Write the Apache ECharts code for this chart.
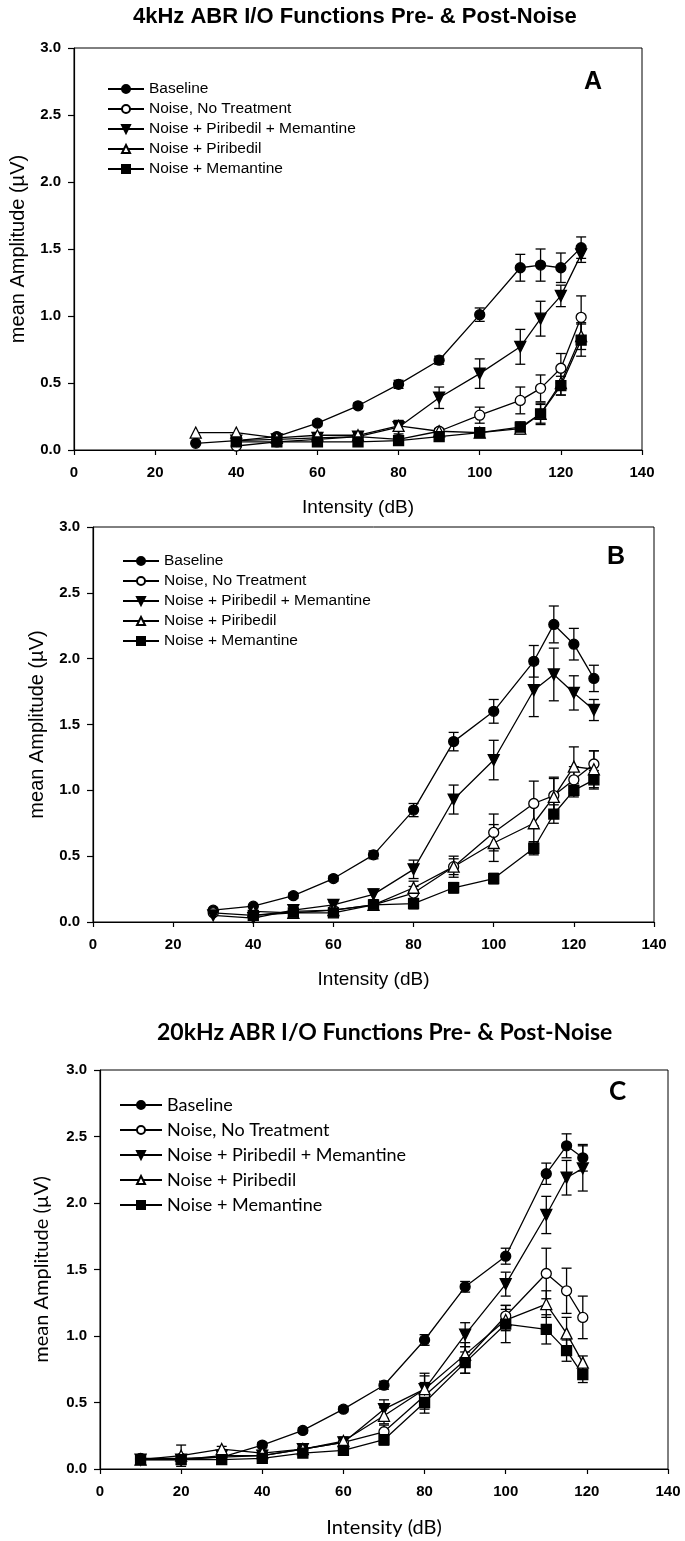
<!DOCTYPE html>
<html>
<head>
<meta charset="utf-8">
<script src="https://cdn.jsdelivr.net/npm/echarts@6/dist/echarts.min.js"></script>
<style>
  html, body { margin: 0; padding: 0; background: #fff; }
  #chart { width: 685px; height: 1541px; }
</style>
</head>
<body>
<div id="chart"></div>
<script>
// ---------- DATA ----------
const seriesNames = ['Baseline', 'Noise, No Treatment', 'Noise + Piribedil + Memantine', 'Noise + Piribedil', 'Noise + Memantine'];
const xTicks = [0, 20, 40, 60, 80, 100, 120, 140];
const yTicks = [0, 0.5, 1.0, 1.5, 2.0, 2.5, 3.0];

// Panel A (4 kHz)
const xA = [30, 40, 50, 60, 70, 80, 90, 100, 110, 115, 120, 125];
const baselineA = [0.05, 0.07, 0.10, 0.20, 0.33, 0.49, 0.67, 1.01, 1.36, 1.38, 1.36, 1.51];
const baselineErrA = [null, null, 0.02, 0.02, 0.02, 0.03, 0.03, 0.05, 0.10, 0.12, 0.11, 0.08];
const noiseA = [null, 0.03, 0.06, 0.08, 0.10, 0.08, 0.14, 0.26, 0.37, 0.46, 0.61, 0.99];
const noiseErrA = [null, null, null, null, null, null, 0.02, 0.06, 0.10, 0.10, 0.11, 0.16];
const pmA = [null, 0.07, 0.08, 0.09, 0.10, 0.17, 0.39, 0.57, 0.77, 0.98, 1.15, 1.46];
const pmErrA = [null, null, null, null, null, 0.05, 0.08, 0.11, 0.13, 0.13, 0.08, 0.06];
const pirA = [0.13, 0.13, 0.09, 0.11, 0.11, 0.18, 0.14, 0.13, 0.16, 0.27, 0.50, 0.85];
const pirErrA = [null, null, null, 0.02, 0.02, 0.04, 0.02, 0.03, 0.04, 0.07, 0.09, 0.10];
const memA = [null, 0.06, 0.06, 0.06, 0.06, 0.07, 0.10, 0.13, 0.17, 0.27, 0.48, 0.82];
const memErrA = [null, null, null, null, null, null, 0.02, 0.03, 0.04, 0.08, 0.07, 0.12];

// Panel B
const xB = [30, 40, 50, 60, 70, 80, 90, 100, 110, 115, 120, 125];
const baselineB = [0.09, 0.12, 0.20, 0.33, 0.51, 0.85, 1.37, 1.60, 1.98, 2.26, 2.11, 1.85];
const baselineErrB = [null, null, 0.02, 0.02, 0.03, 0.05, 0.07, 0.09, 0.12, 0.14, 0.12, 0.10];
const noiseB = [0.07, 0.05, 0.08, 0.09, 0.13, 0.22, 0.42, 0.68, 0.90, 0.96, 1.08, 1.20];
const noiseErrB = [null, null, null, null, 0.02, 0.05, 0.08, 0.14, 0.17, 0.14, 0.10, 0.10];
const pmB = [0.05, 0.03, 0.09, 0.13, 0.21, 0.40, 0.93, 1.23, 1.76, 1.88, 1.74, 1.61];
const pmErrB = [null, null, null, 0.02, 0.04, 0.07, 0.11, 0.15, 0.20, 0.20, 0.13, 0.08];
const pirB = [null, 0.08, 0.07, 0.09, 0.13, 0.26, 0.42, 0.60, 0.75, 0.95, 1.18, 1.16];
const pirErrB = [null, null, null, null, 0.02, 0.05, 0.06, 0.14, 0.14, 0.14, 0.15, 0.14];
const memB = [null, 0.05, 0.07, 0.07, 0.13, 0.14, 0.26, 0.33, 0.56, 0.82, 1.00, 1.08];
const memErrB = [null, null, null, 0.02, 0.03, 0.04, 0.04, 0.04, 0.05, 0.07, 0.05, 0.07];

// Panel C (20 kHz)
const xC = [10, 20, 30, 40, 50, 60, 70, 80, 90, 100, 110, 115, 119];
const baselineC = [0.08, 0.08, 0.09, 0.18, 0.29, 0.45, 0.63, 0.97, 1.37, 1.60, 2.22, 2.43, 2.34];
const baselineErrC = [null, null, null, 0.02, 0.02, 0.02, 0.03, 0.04, 0.04, 0.06, 0.08, 0.09, 0.10];
const noiseC = [0.07, 0.07, 0.09, 0.10, 0.15, 0.20, 0.28, 0.55, 0.82, 1.15, 1.47, 1.34, 1.14];
const noiseErrC = [null, null, null, null, 0.02, 0.03, 0.05, 0.10, 0.10, 0.08, 0.19, 0.17, 0.16];
const pmC = [0.07, 0.07, 0.10, 0.10, 0.15, 0.20, 0.45, 0.60, 1.01, 1.39, 1.91, 2.19, 2.26];
const pmErrC = [null, null, null, null, 0.02, 0.03, 0.07, 0.12, 0.09, 0.09, 0.14, 0.13, 0.17];
const pirC = [0.07, 0.10, 0.15, 0.12, 0.15, 0.21, 0.40, 0.60, 0.86, 1.12, 1.24, 1.02, 0.80];
const pirErrC = [null, 0.08, 0.02, 0.02, 0.02, 0.03, 0.06, 0.10, 0.09, 0.08, 0.10, 0.12, 0.05];
const memC = [0.07, 0.07, 0.07, 0.08, 0.12, 0.14, 0.22, 0.50, 0.80, 1.09, 1.05, 0.89, 0.71];
const memErrC = [null, null, 0.02, 0.02, 0.02, 0.02, 0.04, 0.08, 0.08, 0.14, 0.11, 0.08, 0.06];

// ---------- BUILD ----------
const AR = "'Liberation Sans', Arial, sans-serif";
const CAL = "Lato, 'Liberation Sans', sans-serif";

const styles = [
  { symbol: 'circle', rotate: 0, fill: '#000', size: 10 },
  { symbol: 'circle', rotate: 0, fill: '#fff', size: 10 },
  { symbol: 'triangle', rotate: 180, fill: '#000', size: 11 },
  { symbol: 'triangle', rotate: 0, fill: '#fff', size: 11 },
  { symbol: 'rect', rotate: 0, fill: '#000', size: 10 }
];

function pairs(xs, ys) {
  const out = [];
  xs.forEach((x, i) => { if (ys[i] != null) out.push([x, ys[i]]); });
  return out;
}
function errTriples(xs, ys, es) {
  const out = [];
  xs.forEach((x, i) => { if (ys[i] != null && es[i] != null) out.push([x, ys[i] - es[i], ys[i] + es[i]]); });
  return out;
}
function lineSeries(k, gi, xs, ys) {
  const s = styles[k];
  return {
    type: 'line', name: seriesNames[k], xAxisIndex: gi, yAxisIndex: gi,
    data: pairs(xs, ys), symbol: s.symbol, symbolSize: s.size, symbolRotate: s.rotate,
    showAllSymbol: true, z: 3, animation: false,
    lineStyle: { color: '#000', width: 1.3 },
    itemStyle: { color: s.fill, borderColor: '#000', borderWidth: 1.3, opacity: 1 },
    emphasis: { disabled: true }
  };
}
function errSeries(k, gi, xs, ys, es) {
  return {
    type: 'custom', name: 'err-' + gi + '-' + k, xAxisIndex: gi, yAxisIndex: gi,
    data: errTriples(xs, ys, es), encode: { x: 0, y: [1, 2] }, z: 2, silent: true, animation: false,
    renderItem(params, api) {
      const x = api.value(0);
      const lo = api.coord([x, api.value(1)]);
      const hi = api.coord([x, api.value(2)]);
      const w = 5;
      const st = { stroke: '#000', lineWidth: 1.3 };
      return { type: 'group', children: [
        { type: 'line', shape: { x1: lo[0], y1: lo[1], x2: hi[0], y2: hi[1] }, style: st },
        { type: 'line', shape: { x1: lo[0] - w, y1: lo[1], x2: lo[0] + w, y2: lo[1] }, style: st },
        { type: 'line', shape: { x1: hi[0] - w, y1: hi[1], x2: hi[0] + w, y2: hi[1] }, style: st }
      ] };
    }
  };
}

const panels = [
  { xs: xA, ys: [baselineA, noiseA, pmA, pirA, memA], es: [baselineErrA, noiseErrA, pmErrA, pirErrA, memErrA] },
  { xs: xB, ys: [baselineB, noiseB, pmB, pirB, memB], es: [baselineErrB, noiseErrB, pmErrB, pirErrB, memErrB] },
  { xs: xC, ys: [baselineC, noiseC, pmC, pirC, memC], es: [baselineErrC, noiseErrC, pmErrC, pirErrC, memErrC] }
];

const series = [];
panels.forEach((p, gi) => {
  for (let k = 0; k < 5; k++) series.push(errSeries(k, gi, p.xs, p.ys[k], p.es[k]));
  for (let k = 0; k < 5; k++) series.push(lineSeries(k, gi, p.xs, p.ys[k]));
});

const gridDefs = [
  { left: 70, right: 43, top: 48, height: 402, nameFont: AR, nameSize: 19, yNameSize: 20, yNameGap: 46, xNameGap: 48 },
  { left: 93, right: 31, top: 527, height: 395, nameFont: AR, nameSize: 19, yNameSize: 20, yNameGap: 46, xNameGap: 48 },
  { left: 100, right: 17, top: 1070, height: 399, nameFont: CAL, nameSize: 20, yNameSize: 20, yNameGap: 48, xNameGap: 49 }
];

const grid = gridDefs.map(g => ({ left: g.left, right: g.right, top: g.top, height: g.height, show: true, borderColor: '#000', borderWidth: 1, containLabel: false }));

const tickFont = { fontFamily: AR, fontSize: 15, fontWeight: 'bold', color: '#000' };

const xAxis = gridDefs.map((g, i) => ({
  type: 'value', gridIndex: i, min: xTicks[0], max: xTicks[xTicks.length - 1], interval: xTicks[1] - xTicks[0],
  name: 'Intensity (dB)', nameLocation: 'middle', nameGap: g.xNameGap,
  nameTextStyle: { fontFamily: g.nameFont, fontSize: g.nameSize, color: '#000' },
  axisLine: { show: true, onZero: false, lineStyle: { color: '#000', width: 1.2 } },
  axisTick: { show: true, inside: false, length: 5, lineStyle: { color: '#000', width: 1.2 } },
  axisLabel: Object.assign({ margin: 15 }, tickFont),
  splitLine: { show: false }
}));

const yAxis = gridDefs.map((g, i) => ({
  type: 'value', gridIndex: i, min: yTicks[0], max: yTicks[yTicks.length - 1], interval: yTicks[1] - yTicks[0],
  name: 'mean Amplitude (\u00B5V)', nameLocation: 'middle', nameGap: g.yNameGap,
  nameTextStyle: { fontFamily: g.nameFont, fontSize: g.yNameSize, color: '#000' },
  axisLine: { show: true, onZero: false, lineStyle: { color: '#000', width: 1.2 } },
  axisTick: { show: true, inside: false, length: 6, lineStyle: { color: '#000', width: 1.2 } },
  axisLabel: Object.assign({ margin: 13, formatter: v => v.toFixed(1) }, tickFont),
  splitLine: { show: false }
}));

const legendDefs = [
  { left: 107, top: 81, font: AR, size: 15.5, gap: 4, w: 36 },
  { left: 122, top: 553, font: AR, size: 15.5, gap: 4, w: 36 },
  { left: 119, top: 1096, font: CAL, size: 18, gap: 7, w: 42 }
];
const legend = legendDefs.map(l => ({
  data: seriesNames, orient: 'vertical', left: l.left, top: l.top, itemGap: l.gap,
  itemWidth: l.w, itemHeight: 10, selectedMode: false, padding: 0,
  textStyle: { fontFamily: l.font, fontSize: l.size, color: '#000' }
}));

const option = {
  backgroundColor: '#fff',
  animation: false,
  title: [
    { text: '4kHz ABR I/O Functions Pre- & Post-Noise', left: 128, top: 1,
      textStyle: { fontFamily: AR, fontSize: 22, fontWeight: 'bold', color: '#000' } },
    { text: '20kHz ABR I/O Functions Pre- & Post-Noise', left: 152, top: 1016,
      textStyle: { fontFamily: CAL, fontSize: 23, fontWeight: 'bold', color: '#000' } }
  ],
  graphic: [
    { type: 'text', left: 584, top: 70, style: { text: 'A', font: "bold 25px 'Liberation Sans', Arial", fill: '#000' } },
    { type: 'text', left: 607, top: 545, style: { text: 'B', font: "bold 25px 'Liberation Sans', Arial", fill: '#000' } },
    { type: 'text', left: 609, top: 1079, style: { text: 'C', font: "bold 26px Lato, 'Liberation Sans'", fill: '#000' } }
  ],
  grid, xAxis, yAxis, legend, series
};

const chart = echarts.init(document.getElementById('chart'), null, { renderer: 'canvas' });
chart.setOption(option);
</script>
</body>
</html>
